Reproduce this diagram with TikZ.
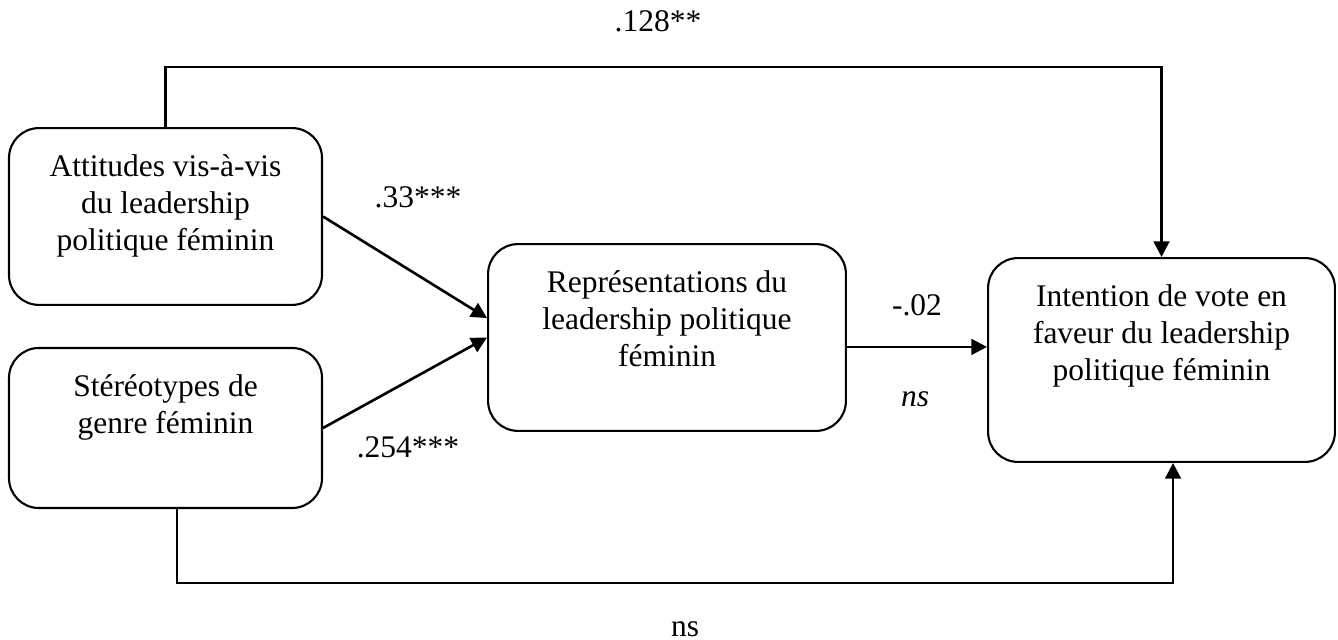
\documentclass[tikz,border=0pt]{standalone}
\usepackage{fontspec}
\setmainfont{Liberation Serif}
\usetikzlibrary{arrows.meta}
\tikzset{
    box/.style={draw, rounded corners=11.4pt, inner sep=0pt},
    boxtext/.style={anchor=north, align=center, inner sep=0pt, yshift=-10.1pt},
    coef/.style={anchor=base, inner sep=0pt},
    path/.style={->, line width=1pt},
}
\begin{document}
\begin{tikzpicture}[x=0.0134cm, y=-0.0134cm, line width=0.8pt,
    >={Triangle[length=6pt,width=6pt]},
    font=\fontsize{12}{14.1}\selectfont]
    \useasboundingbox (0,0) rectangle (1338,640);
    % boxes
    \node[box, minimum width=119.3pt, minimum height=67.4pt] (att) at (165.5,216.5) {};
    \node[box, minimum width=119.3pt, minimum height=61pt] (ster) at (165.5,428) {};
    \node[box, minimum width=136.4pt, minimum height=71.2pt] (rep) at (667,337.5) {};
    \node[box, minimum width=132.2pt, minimum height=77.7pt] (int) at (1161.5,360) {};
    \node[boxtext] (att-txt) at (att.north) {Attitudes vis-à-vis\\du leadership\\politique féminin};
    \node[boxtext] (ster-txt) at (ster.north) {Stéréotypes de\\genre féminin};
    \node[boxtext] (rep-txt) at (rep.north) {Représentations du\\leadership politique\\féminin};
    \node[boxtext] (int-txt) at (int.north) {Intention de vote en\\faveur du leadership\\politique féminin};
    % coefficients
    \node[coef] (c-direct) at (658,32) {.128**};
    \node[coef] (c-att) at (418,208) {.33***};
    \node[coef] (c-ster) at (408,458) {.254***};
    \node[coef] (c-rep) at (917,316) {-.02};
    \node[coef] (c-rep-ns) at (915,407) {\textit{ns}};
    \node[coef] (c-ster-ns) at (685,636) {ns};
    % paths
    \coordinate (topbar) at (0,67);
    \coordinate (botbar) at (0,583);
    \coordinate (ster-out) at ([xshift=4.4pt]ster.south);
    \coordinate (int-in) at ([xshift=4.4pt]int.south);
    \coordinate (rep-in) at ([yshift=7.4pt]rep.west);
    \coordinate (rep-out) at ([yshift=-3.6pt]rep.east);
    \draw[path] (att.north) -- (att.north |- topbar) -| (int.north);
    \draw[path] (ster-out) -- (ster-out |- botbar) -| (int-in);
    \draw[path] (att.east) -- (rep-in);
    \draw[path] (ster.east) -- (rep.west);
    \draw[path] (rep-out) -- (rep-out -| int.west);
\end{tikzpicture}
\end{document}
